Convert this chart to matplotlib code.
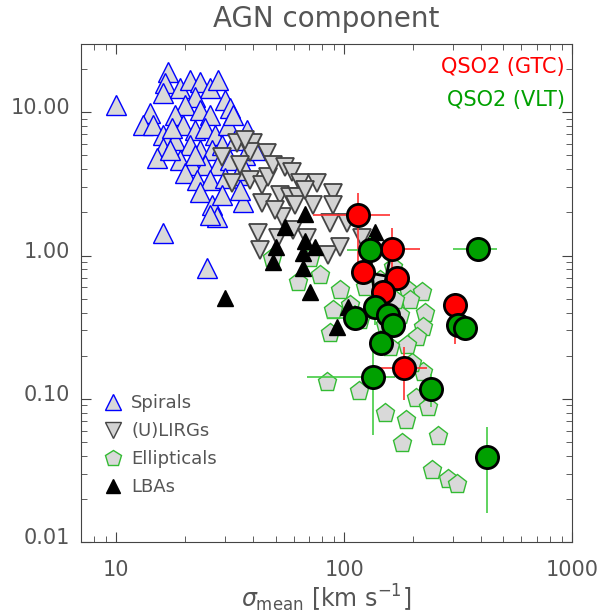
import matplotlib
matplotlib.use('Agg')
import matplotlib.pyplot as plt
import matplotlib.transforms as mtransforms
from matplotlib.lines import Line2D
import numpy as np

# DATA (sigma_mean [km/s], AGN component value)
spiral_x = [9.97, 16.9, 16.4, 16.0, 14.1, 13.1, 14.5, 16.0, 16.0, 15.1,
            19.0, 21.1, 23.3, 25.8, 28.0, 22.2, 30.0, 20.0, 18.1, 23.3,
            25.8, 31.6, 19.6, 22.2, 24.5, 27.1, 30.9, 18.1, 21.1, 23.3,
            26.3, 29.1, 33.2, 19.0, 21.5, 24.5, 28.0, 31.6, 36.7, 20.0,
            22.6, 25.8, 30.0, 34.2, 23.3, 26.3, 27.7, 25.8, 36.0, 16.0,
            25.0, 32.5, 37.5, 17.6, 34.9, 22.2, 17.2, 36.7, 29.1, 40.6]
spiral_y = [11.3, 19.1, 16.0, 13.7, 9.90, 8.17, 8.17, 6.95, 5.64, 4.80,
            14.8, 16.8, 16.3, 14.8, 16.8, 12.8, 12.2, 11.3, 9.59, 10.4,
            9.59, 10.7, 8.17, 7.54, 7.78, 6.95, 8.17, 6.42, 5.92, 5.46,
            5.46, 5.92, 6.42, 4.65, 4.29, 4.29, 4.29, 4.65, 5.04, 3.78,
            3.37, 3.37, 3.48, 3.66, 2.78, 2.26, 1.86, 1.92, 2.37, 1.44,
            0.819, 9.59, 7.54, 7.78, 2.87, 5.04, 5.46, 3.96, 2.65, 5.46]

ulirg_x = [29.1, 33.9, 39.8, 45.9, 38.6, 32.2, 38.6, 43.6, 46.3, 48.7,
           55.0, 59.0, 64.0, 76.0, 52.3, 57.9, 62.8, 60.9, 73.0, 89.4,
           89.4, 86.7, 103.0, 53.4, 43.6, 59.7, 41.9, 51.3, 42.7, 85.0,
           95.9, 119.8, 68.7, 34.9, 36.7, 67.3, 49.8]
ulirg_y = [4.88, 6.11, 6.11, 5.21, 5.29, 3.21, 3.37, 3.11, 3.54, 4.29,
           4.16, 3.84, 3.21, 3.21, 2.65, 2.57, 2.57, 2.26, 2.26, 2.74,
           2.26, 1.69, 1.69, 1.86, 2.33, 1.51, 1.44, 1.33, 1.09, 1.01,
           1.15, 1.33, 1.33, 4.29, 6.42, 2.87, 2.08]

ellip_x = [48.3, 70.8, 78.4, 62.8, 89.4, 86.7, 164.0, 190.8, 219.8, 194.7,
           123.5, 226.5, 222.0, 208.9, 176.0, 84.1, 116.3, 151.2, 187.0, 179.6,
           258.3, 243.1, 285.8, 313.1, 206.9, 233.5, 222.0, 198.7, 188.8, 159.0,
           95.9, 106.1, 136.7, 151.2, 117.4, 143.8, 167.3]
ellip_y = [0.962, 0.962, 0.732, 0.654, 0.417, 0.288, 0.833, 0.575, 0.557, 0.490,
           0.603, 0.397, 0.317, 0.270, 0.385, 0.131, 0.113, 0.0796, 0.0711, 0.0491,
           0.0550, 0.0318, 0.0275, 0.0254, 0.101, 0.0877, 0.154, 0.178, 0.237, 0.230,
           0.575, 0.452, 0.417, 0.328, 0.355, 0.675, 0.490]

lba_x = [67.3, 55.0, 50.2, 48.7, 67.3, 74.5, 66.0, 66.0, 30.0, 70.8, 104.0, 93.1, 136.7]
lba_y = [1.95, 1.58, 1.15, 0.902, 1.26, 1.15, 1.04, 0.819, 0.506, 0.557, 0.438, 0.317, 1.46]

# QSO2 GTC: value and error ranges (low, high)
gtc_x = [115, 162, 121, 171, 148, 307, 183]
gtc_y = [1.92, 1.11, 0.768, 0.697, 0.557, 0.452, 0.164]
gtc_xlo = [73, 140, 110, 155, 135, 290, 140]
gtc_xhi = [159, 215, 135, 185, 165, 325, 231]
gtc_ylo = [0.89, 0.82, 0.70, 0.60, 0.48, 0.24, 0.098]
gtc_yhi = [2.74, 1.55, 0.85, 0.80, 0.65, 0.55, 0.23]

# QSO2 VLT
vlt_x = [130, 137, 112, 156, 164, 145, 134, 241, 424, 387, 316, 340]
vlt_y = [1.09, 0.438, 0.367, 0.385, 0.328, 0.245, 0.142, 0.117, 0.0392, 1.11, 0.328, 0.312]
vlt_xlo = [103, 125, 84, 145, 155, 135, 69, 215, 410, 300, 305, 330]
vlt_xhi = [162, 150, 125, 168, 175, 158, 167, 265, 440, 470, 328, 352]
vlt_ylo = [0.85, 0.33, 0.30, 0.33, 0.28, 0.20, 0.056, 0.088, 0.0159, 1.00, 0.28, 0.27]
vlt_yhi = [1.35, 0.55, 0.45, 0.45, 0.38, 0.30, 0.245, 0.150, 0.0636, 1.20, 0.38, 0.36]

# black lines joining measurements of the same objects
link_x0 = [130, 162, 121]
link_y0 = [1.09, 1.11, 0.768]
link_x1 = [137, 148, 171]
link_y1 = [0.438, 0.557, 0.697]

TXT = '#555555'
AX = '#444444'

fig = plt.figure(figsize=(6.05, 6.15), dpi=100)
ax = fig.add_axes([0.1339, 0.1187, 0.8116, 0.8098])
ax.set_xscale('log')
ax.set_yscale('log')
ax.set_xlim(7, 1000)
ax.set_ylim(0.01, 30)

ax.plot(spiral_x, spiral_y, '^', ms=14.5, mfc='#d9d9d9', mec='#0000ff', mew=1, ls='none', zorder=2)
ax.plot(ulirg_x, ulirg_y, 'v', ms=13, mfc='#d3d3d3', mec='#444444', mew=1.3, ls='none', zorder=3)
ax.plot(ellip_x, ellip_y, 'p', ms=14, mfc='#d9d9d9', mec='#33bb33', mew=1, ls='none', zorder=3)
ax.plot(lba_x, lba_y, '^', ms=11.5, mfc='black', mec='black', ls='none', zorder=4)


def err(v, lo, hi):
    v, lo, hi = np.array(v), np.array(lo), np.array(hi)
    return [v - lo, hi - v]


ax.errorbar(gtc_x, gtc_y, xerr=err(gtc_x, gtc_xlo, gtc_xhi), yerr=err(gtc_y, gtc_ylo, gtc_yhi),
            fmt='none', ecolor='#ff3030', elinewidth=1.2, capsize=0, zorder=5)
ax.errorbar(vlt_x, vlt_y, xerr=err(vlt_x, vlt_xlo, vlt_xhi), yerr=err(vlt_y, vlt_ylo, vlt_yhi),
            fmt='none', ecolor='#44cc44', elinewidth=1.2, capsize=0, zorder=5)
for i in range(len(link_x0)):
    ax.plot([link_x0[i], link_x1[i]], [link_y0[i], link_y1[i]], color='black', lw=2, zorder=6)

ax.plot(gtc_x, gtc_y, 'o', ms=16, mfc='#ff0000', mec='black', mew=2, ls='none', zorder=7)
ax.plot(vlt_x, vlt_y, 'o', ms=16, mfc='#00a000', mec='black', mew=2, ls='none', zorder=7)

# axes styling
for s in ax.spines.values():
    s.set_color(AX)
ax.tick_params(which='both', direction='in', top=True, right=True, colors=AX,
               labelcolor=TXT, labelsize=15)
ax.tick_params(which='major', length=7)
ax.tick_params(which='minor', length=4.5)
ax.set_xticks([10, 100, 1000])
ax.set_xticklabels(['10', '100', '1000'])
ax.set_yticks([0.01, 0.1, 1, 10])
ax.set_yticklabels(['0.01', '0.10', '1.00', '10.00'])
ax.tick_params(axis='x', pad=13)
ax.tick_params(axis='y', pad=8)

# IDL puts the y labels a little above their ticks
shift = mtransforms.ScaledTranslation(0, 6 / 100, fig.dpi_scale_trans)
for lab in ax.get_yticklabels():
    lab.set_transform(lab.get_transform() + shift)

ax.set_xlabel(r'$\sigma_{\rm mean}$ [km s$^{-1}$]', fontsize=17, color=TXT, labelpad=2)
ax.set_title('AGN component', fontsize=20, color=TXT, pad=12)

ax.text(0.985, 0.954, 'QSO2 (GTC)', color='#ff0000', fontsize=15, ha='right', va='center',
        transform=ax.transAxes)
ax.text(0.985, 0.888, 'QSO2 (VLT)', color='#00a000', fontsize=15, ha='right', va='center',
        transform=ax.transAxes)

handles = [
    Line2D([], [], marker='^', ms=11, mfc='#d9d9d9', mec='#0000ff', ls='none', label='Spirals'),
    Line2D([], [], marker='v', ms=11, mfc='#d3d3d3', mec='#444444', ls='none', label='(U)LIRGs'),
    Line2D([], [], marker='p', ms=12, mfc='#d9d9d9', mec='#33bb33', ls='none', label='Ellipticals'),
    Line2D([], [], marker='^', ms=10, mfc='black', mec='black', ls='none', label='LBAs'),
]
ax.legend(handles=handles, loc='lower left', frameon=False, fontsize=13, labelcolor=TXT,
          handletextpad=0.4, handlelength=1.2, labelspacing=0.55, bbox_to_anchor=(0.01, 0.06))

fig.savefig('out.png', dpi=100)
